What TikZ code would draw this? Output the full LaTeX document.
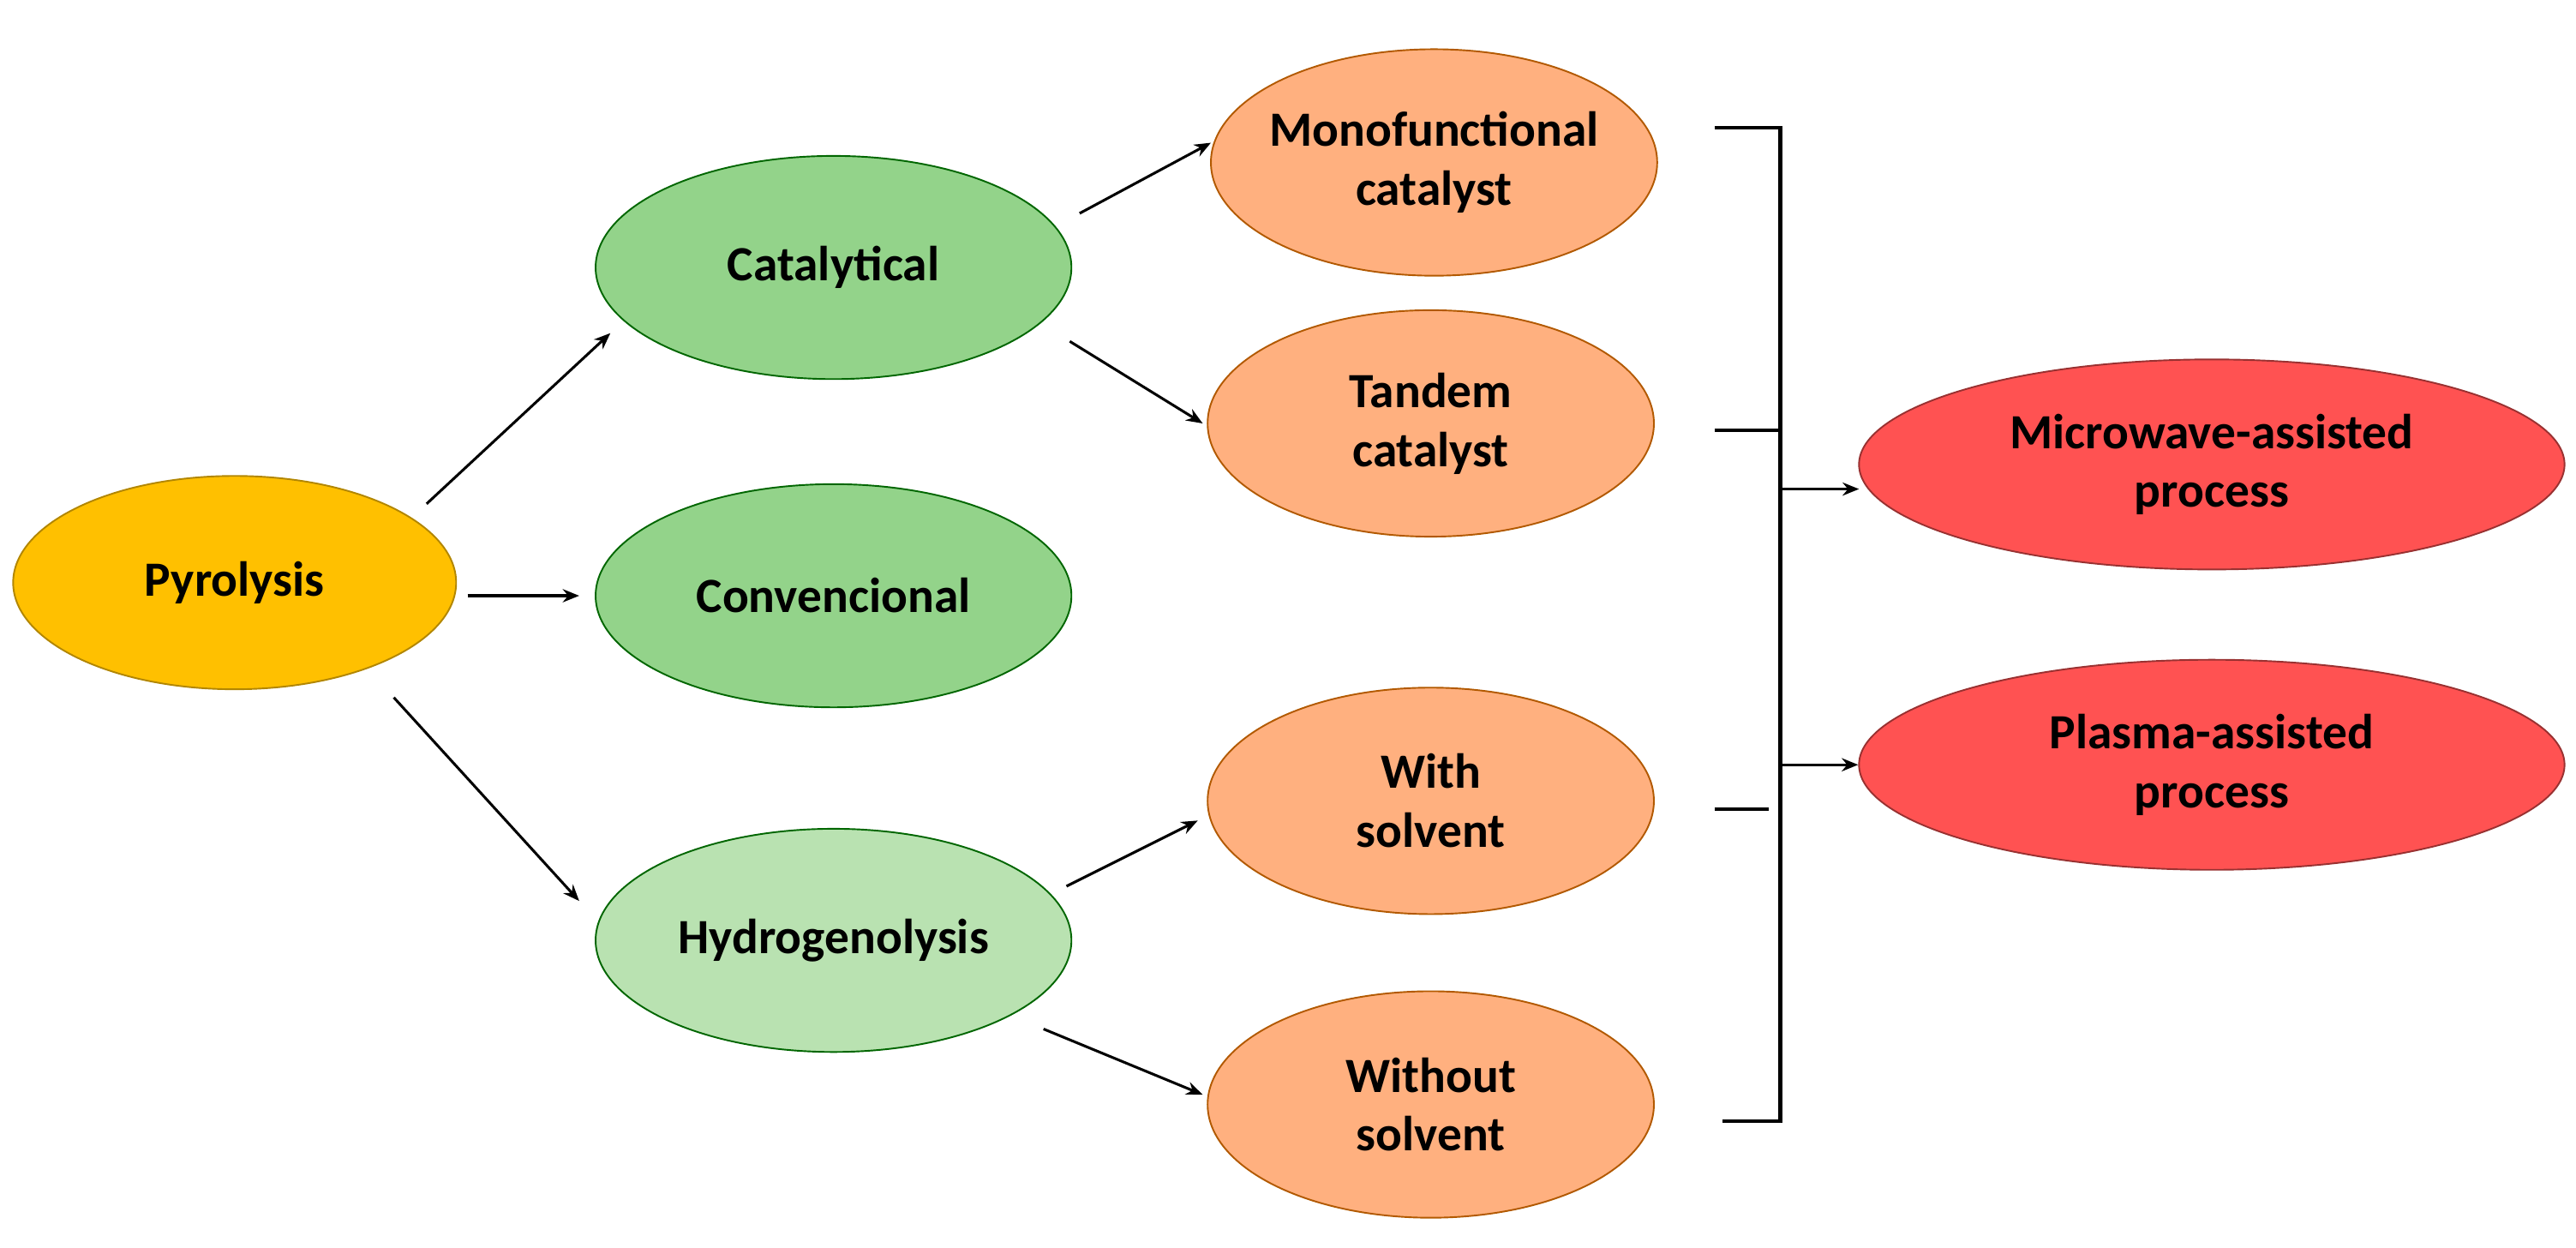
\documentclass[tikz,border=0pt]{standalone}
\usepackage{fontspec}
\setmainfont{Carlito}
\usetikzlibrary{shapes.geometric,arrows.meta}
\definecolor{pyr}{HTML}{FFC000}
\definecolor{grn}{HTML}{93D38A}
\definecolor{lgrn}{HTML}{B9E2B1}
\definecolor{org}{HTML}{FFB07F}
\definecolor{red}{HTML}{FF5252}
\begin{document}
\begin{tikzpicture}[x=1pt,y=-1pt,
  el/.style 2 args={ellipse,draw,line width=1pt,minimum width=#1,minimum height=#2,inner sep=0pt},
  txt/.style={align=center,font=\fontsize{30}{36}\selectfont\bfseries},
  arr/.style={-{Stealth[length=10pt,width=8pt]},line width=1.6pt},
  br/.style={line width=2.2pt}]
\useasboundingbox (0,0) rectangle (1570,760);
\node[el={270pt}{130pt},fill=pyr,draw=pyr!70!black] (pyr) at (143,355) {};
\node[txt] at (pyr) {Pyrolysis};
\node[el={290pt}{136pt},fill=grn,draw=green!40!black] (cat) at (508,163) {};
\node[txt] at (cat) {Catalytical};
\node[el={290pt}{136pt},fill=grn,draw=green!40!black] (con) at (508,363) {};
\node[txt] at (con) {Convencional};
\node[el={290pt}{136pt},fill=lgrn,draw=green!40!black] (hyd) at (508,573) {};
\node[txt] at (hyd) {Hydrogenolysis};
\node[el={272pt}{138pt},fill=org,draw=orange!70!black] (mono) at (874,99) {};
\node[txt] at (mono) {Monofunctional\\catalyst};
\node[el={272pt}{138pt},fill=org,draw=orange!70!black] (tan) at (872,258) {};
\node[txt] at (tan) {Tandem\\catalyst};
\node[el={272pt}{138pt},fill=org,draw=orange!70!black] (with) at (872,488) {};
\node[txt] at (with) {With\\solvent};
\node[el={272pt}{138pt},fill=org,draw=orange!70!black] (wout) at (872,673) {};
\node[txt] at (wout) {Without\\solvent};
\node[el={430pt}{128pt},fill=red,draw=red!60!black] (mw) at (1348,283) {};
\node[txt] at (mw) {Microwave-assisted\\process};
\node[el={430pt}{128pt},fill=red,draw=red!60!black] (pl) at (1348,466) {};
\node[txt] at (pl) {Plasma-assisted\\process};
\coordinate (a1) at (260,307); \coordinate (a2) at (372,203);
\coordinate (c1) at (285,363); \coordinate (c2) at (353,363);
\coordinate (h1) at (240,425); \coordinate (h2) at (353,549);
\coordinate (m1) at (658,130); \coordinate (m2) at (738,87);
\coordinate (n1) at (652,208); \coordinate (n2) at (733,258);
\coordinate (w1) at (650,540); \coordinate (w2) at (730,500);
\coordinate (o1) at (636,627); \coordinate (o2) at (733,667);
\draw[arr] (a1) -- (a2);
\draw[arr] (c1) -- (c2);
\draw[arr] (h1) -- (h2);
\draw[arr] (m1) -- (m2);
\draw[arr] (n1) -- (n2);
\draw[arr] (w1) -- (w2);
\draw[arr] (o1) -- (o2);
\coordinate (t1) at (1045,78); \coordinate (b1) at (1085,78);
\coordinate (t2) at (1045,262); \coordinate (b2) at (1085,262);
\coordinate (t3) at (1045,493); \coordinate (b3) at (1078,493);
\coordinate (t4) at (1050,683); \coordinate (b4) at (1085,683);
\coordinate (j1) at (1085,298); \coordinate (j2) at (1085,466);
\draw[br] (t1) -- (b1) -- (b4) -- (t4);
\draw[br] (t2) -- (b2);
\draw[br] (t3) -- (b3);
\draw[arr] (j1) -- (1133,298);
\draw[arr] (j2) -- (pl.west);
\end{tikzpicture}
\end{document}
